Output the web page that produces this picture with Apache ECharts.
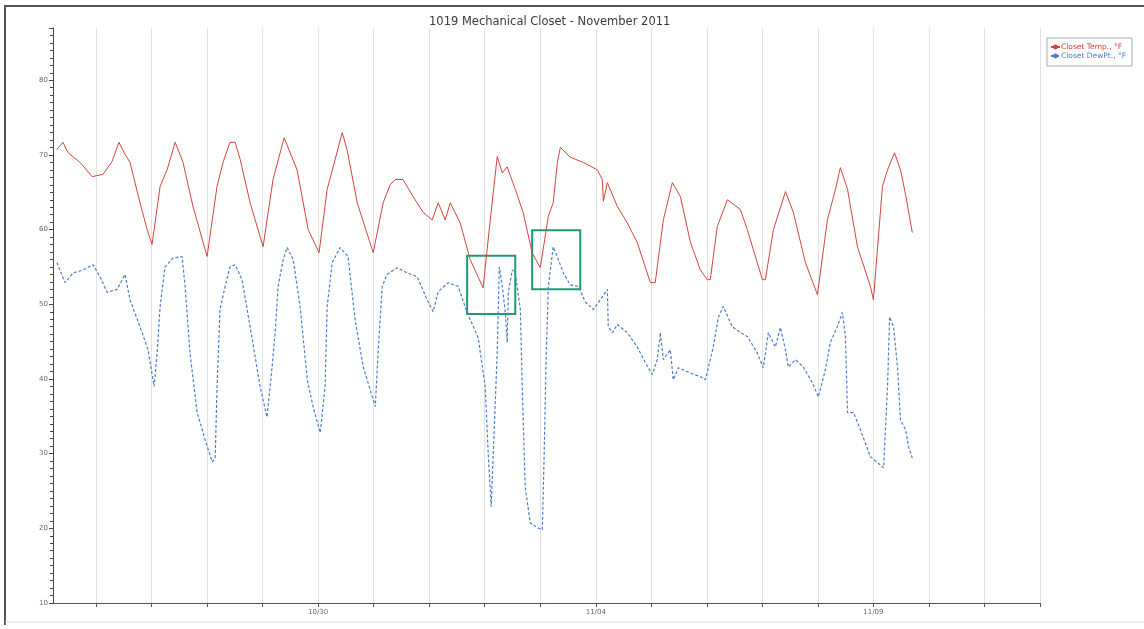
<!DOCTYPE html>
<html>
<head>
<meta charset="utf-8">
<script src="https://cdn.jsdelivr.net/npm/echarts@6/dist/echarts.min.js"></script>
<style>
html,body{margin:0;padding:0;background:#fff;}
#chart{width:1144px;height:629px;}
</style>
</head>
<body>
<div id="chart"></div>
<script>
// ---- data (hours since 2011-10-25 00:00, values in °F) ----
const startDate = Date.UTC(2011, 9, 25, 0, 0);
const axisStartHours = 5.4;
const axisEndHours = 432;
const xLabelDates = ['10/30', '11/04', '11/09'];
const yTickValues = [10, 20, 30, 40, 50, 60, 70, 80];

const tempHours = [7.0,9.7,11.9,17.1,22.3,27.0,30.9,33.9,36.5,38.7,43.0,46.1,48.2,51.7,54.7,58.2,61.6,65.9,72.0,76.3,78.9,81.9,84.1,86.3,90.6,96.2,100.5,105.3,110.9,115.7,120.4,123.9,126.5,130.4,132.5,136.9,143.8,148.1,151.1,153.3,156.7,161.1,165.4,169.3,171.9,174.9,177.1,181.4,185.7,191.3,194.4,197.4,199.6,201.7,205.2,208.6,212.5,216.0,219.5,221.6,223.4,224.7,229.0,234.6,240.7,242.8,243.3,245.0,249.3,253.6,257.9,263.6,265.7,269.2,273.1,276.6,280.9,285.2,288.2,289.5,292.5,296.9,302.5,305.5,312.0,313.3,316.8,322.0,325.4,330.6,335.8,340.1,343.6,345.7,348.8,353.1,358.7,360.0,363.9,366.1,369.1,371.7,373.9,376.8];
const tempValues = [70.7,71.7,70.3,69.0,67.1,67.4,69.1,71.7,70.1,69.0,63.6,60.0,58.0,65.8,68.0,71.7,69.0,63.1,56.4,65.8,69.0,71.7,71.7,69.4,63.6,57.7,66.7,72.3,68.0,60.0,56.9,65.4,68.4,73.0,70.7,63.6,56.9,63.6,66.0,66.7,66.7,64.4,62.3,61.3,63.6,61.3,63.6,60.9,56.0,52.2,61.3,69.8,67.6,68.4,65.4,62.3,56.9,54.9,61.8,63.6,69.0,71.0,69.7,69.0,68.0,66.7,63.8,66.3,63.1,60.9,58.3,52.9,52.9,61.3,66.3,64.4,58.3,54.6,53.3,53.3,60.4,64.0,62.7,60.0,53.3,53.3,60.0,65.1,62.3,55.6,51.3,61.3,65.4,68.3,65.4,57.7,52.4,50.6,65.8,68.0,70.3,68.0,64.7,59.6];

const dewHours = [7.1,10.6,14.1,18.4,22.7,25.7,28.8,33.1,36.5,38.7,43.0,46.5,49.1,50.4,51.7,53.8,57.3,61.2,62.5,64.6,67.7,71.1,74.2,75.5,76.3,77.6,79.8,81.9,84.1,87.1,90.6,94.9,97.9,100.1,101.4,102.7,104.9,106.6,109.2,112.2,115.3,117.8,120.9,123.0,123.9,126.1,129.5,132.9,136.0,139.5,144.7,145.9,147.7,149.8,154.2,158.5,162.8,167.1,169.7,171.9,176.2,180.5,184.4,189.2,192.2,193.5,194.8,195.7,197.4,198.3,199.6,200.9,201.7,202.2,203.9,205.2,207.4,208.2,209.5,211.7,214.7,216.9,217.7,218.6,219.5,221.6,223.8,226.0,229.0,232.5,235.5,239.0,242.8,245.0,245.4,247.2,249.3,253.6,257.9,261.4,264.4,266.6,267.9,269.2,272.2,273.5,275.7,280.9,285.2,287.4,290.8,293.0,295.1,299.0,302.5,305.5,309.8,312.4,314.6,317.6,319.8,322.0,323.2,326.3,329.7,333.6,336.2,339.2,341.4,344.4,346.6,347.9,348.8,351.4,354.4,358.7,361.8,364.4,366.1,367.0,368.7,370.4,371.7,373.9,375.2,376.8];
const dewValues = [55.6,52.9,54.2,54.6,55.3,53.7,51.6,52.0,54.0,50.6,47.0,43.9,39.0,43.5,49.7,55.0,56.2,56.4,52.4,43.5,35.5,31.9,28.9,29.4,39.0,49.3,52.4,55.0,55.3,53.3,47.0,39.0,34.9,41.6,46.2,52.4,56.0,57.6,56.0,49.7,39.9,36.3,32.8,39.0,49.7,55.6,57.6,56.4,47.9,41.6,36.3,43.5,52.4,54.0,54.9,54.2,53.7,50.6,49.0,51.7,52.9,52.4,48.9,45.5,39.0,30.1,22.9,30.1,43.5,55.0,52.4,48.9,44.9,51.6,54.6,54.2,49.3,39.0,25.5,20.7,20.1,19.8,30.1,43.5,52.4,57.7,56.0,54.2,52.6,52.4,50.3,49.3,51.0,52.0,47.0,46.2,47.3,46.2,44.3,42.2,40.6,42.6,46.2,42.6,43.9,39.9,41.5,40.8,40.3,39.9,44.3,48.3,49.7,47.0,46.2,45.7,43.5,41.5,46.2,44.3,46.9,43.9,41.6,42.6,41.6,39.5,37.6,41.2,44.9,47.0,48.9,45.7,35.5,35.5,33.2,29.6,28.8,28.1,39.0,48.3,47.0,41.6,34.5,33.2,30.9,29.4];

// annotation boxes: [startHours, endHours, lowValue, highValue]
const boxes = [[184.4, 205.2, 48.7, 56.5], [212.5, 233.3, 52.0, 59.9]];

const seriesNames = ['Closet Temp., °F', 'Closet DewPt., °F'];
const seriesColors = ['#d4433d', '#4d7dc8'];

// ---- build ----
const H = 3600 * 1000;
const toTime = h => startDate + h * H;
const tempData = tempHours.map((h, i) => [toTime(h), tempValues[i]]);
const dewData = dewHours.map((h, i) => [toTime(h), dewValues[i]]);
const pad = n => (n < 10 ? '0' : '') + n;

const chart = echarts.init(document.getElementById('chart'));
chart.setOption({
  useUTC: true,
  animation: false,
  textStyle: { fontFamily: 'DejaVu Sans' },
  title: {
    text: '1019 Mechanical Closet - November 2011',
    left: 424, top: 11,
    textStyle: { fontSize: 11.5, fontWeight: 'normal', color: '#3a3a3a' }
  },
  legend: {
    orient: 'vertical', left: 1047, top: 38,
    padding: [5, 6, 6, 3], itemGap: 1, itemWidth: 9, itemHeight: 6,
    borderColor: '#aaa', borderWidth: 1, backgroundColor: '#fff',
    textStyle: { fontSize: 7.5, padding: [0, 0, 0, -4] },
    data: seriesNames.map((n, i) => ({ name: n, textStyle: { color: seriesColors[i] } }))
  },
  graphic: [
    { type: 'polyline', shape: { points: [[5, 625], [5, 6], [1144, 6]] }, style: { stroke: '#555', lineWidth: 2, fill: null }, silent: true },
    { type: 'line', shape: { x1: 5, y1: 622, x2: 1144, y2: 622 }, style: { stroke: '#ddd', lineWidth: 1 }, silent: true }
  ],
  grid: { left: 53, right: 104, top: 28, bottom: 26 },
  xAxis: {
    type: 'time',
    min: toTime(axisStartHours),
    max: toTime(axisEndHours),
    minInterval: 24 * H, maxInterval: 24 * H,
    axisLine: { lineStyle: { color: '#555', width: 1 } },
    axisTick: { show: true, length: 4, lineStyle: { color: '#555' } },
    splitLine: { show: true, lineStyle: { color: '#e2e2e2', width: 1 } },
    axisLabel: {
      fontSize: 7, color: '#666', margin: 6,
      showMinLabel: false, showMaxLabel: false, hideOverlap: false,
      formatter: v => {
        const d = new Date(v);
        const s = pad(d.getUTCMonth() + 1) + '/' + pad(d.getUTCDate());
        return (xLabelDates.indexOf(s) >= 0 && d.getUTCHours() === 0) ? s : '';
      }
    }
  },
  yAxis: {
    type: 'value', min: 10, max: 87, interval: 10,
    axisLine: { show: true, lineStyle: { color: '#444', width: 1 } },
    axisTick: { show: true, length: 4, lineStyle: { color: '#444' } },
    minorTick: { show: true, splitNumber: 10, length: 3, lineStyle: { color: '#444' } },
    splitLine: { show: false },
    axisLabel: {
      fontSize: 7, color: '#666', margin: 5, showMaxLabel: false,
      formatter: v => (yTickValues.indexOf(v) >= 0 ? String(v) : '')
    }
  },
  series: [
    {
      name: seriesNames[0], type: 'line', data: tempData, symbol: 'none',
      color: seriesColors[0], lineStyle: { width: 1, color: seriesColors[0] }
    },
    {
      name: seriesNames[1], type: 'line', data: dewData, symbol: 'none',
      color: seriesColors[1], lineStyle: { width: 1.2, type: [3, 2], color: seriesColors[1] },
      markArea: {
        silent: true,
        itemStyle: { color: 'rgba(0,0,0,0)', borderColor: '#1f9a78', borderWidth: 2 },
        data: boxes.map(b => [{ xAxis: toTime(b[0]), yAxis: b[3] }, { xAxis: toTime(b[1]), yAxis: b[2] }])
      }
    }
  ]
});
</script>
</body>
</html>
